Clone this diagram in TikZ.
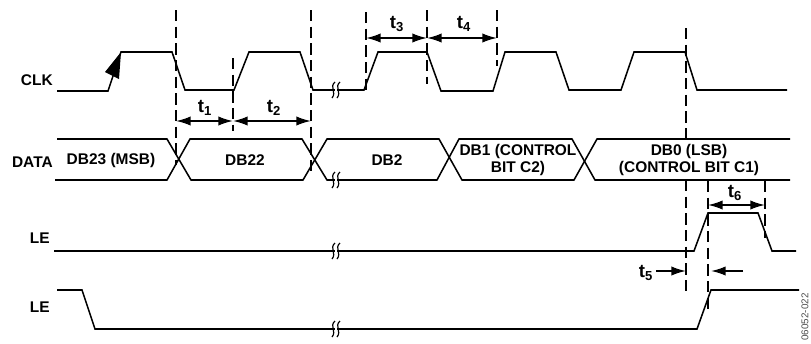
\documentclass[tikz,border=0pt]{standalone}
\usepackage{fontspec}
\setmainfont{Liberation Sans}
\usetikzlibrary{arrows.meta}
\tikzset{
    wave/.style={line width=1.15pt, line join=miter},
    guide/.style={line width=1pt, dash pattern=on 8.5pt off 4pt},
    span/.style={line width=1.3pt, {Latex[length=11pt,width=7pt]}-{Latex[length=11pt,width=7pt]}},
    oneway/.style={line width=1.3pt, -{Latex[length=11pt,width=7pt]}},
    lab/.style={font=\bfseries\fontsize{11.6pt}{12.8pt}\selectfont, inner sep=0pt, align=center},
    tlab/.style={font=\bfseries\fontsize{14pt}{15pt}\selectfont, inner sep=0pt}
}
\begin{document}
\begin{tikzpicture}[x=0.75pt, y=-0.75pt]
            \useasboundingbox (0, 0) rectangle (811, 343);
            % guide lines
            \path (176, 10) coordinate (G1a);
            \path (176, 165) coordinate (G1b);
            \path (233, 58) coordinate (G2a);
            \path (233, 131) coordinate (G2b);
            \path (311, 10) coordinate (G3a);
            \path (311, 172) coordinate (G3b);
            \path (366, 12) coordinate (G4a);
            \path (366, 90) coordinate (G4b);
            \path (427, 10) coordinate (G5a);
            \path (427, 84) coordinate (G5b);
            \path (497, 10) coordinate (G6a);
            \path (497, 66) coordinate (G6b);
            \path (686, 28) coordinate (G7a);
            \path (686, 139) coordinate (G7b);
            \path (686, 180) coordinate (G8a);
            \path (686, 296) coordinate (G8b);
            \path (708, 181) coordinate (G9a);
            \path (708, 314) coordinate (G9b);
            \path (765, 181) coordinate (G10a);
            \path (765, 238) coordinate (G10b);
            \foreach \g in {1, 2, 3, 4, 5, 6, 7, 8, 9, 10}
                \draw[guide] (G\g a) -- (G\g b);

            % CLK
            \draw[wave] (57, 91) -- (108, 91) -- (121, 52) -- (172, 52) -- (185, 90) -- (234, 90) -- (249, 52) -- (300, 52) -- (313, 90) -- (364, 90) -- (378, 52) -- (427, 52) -- (441, 91) -- (493, 91) -- (505, 52) -- (556, 52) -- (569, 90) -- (621, 90) -- (634, 52) -- (685, 52) -- (697, 90) -- (787, 90);
            \fill (121, 52) -- (105, 72) -- (119, 79) -- cycle;

            % DATA
            \draw[wave] (57, 139) -- (167, 139) -- (191, 180) -- (303, 180) -- (327, 139) -- (439, 139) -- (462, 180) -- (574, 180) -- (597, 139) -- (790, 139);
            \draw[wave] (55, 180) -- (167, 180) -- (190, 139) -- (302, 139) -- (327, 180) -- (437, 180) -- (459, 139) -- (572, 139) -- (595, 180) -- (790, 180);

            % LE
            \draw[wave] (54, 251) -- (694, 251) -- (708, 213) -- (758, 213) -- (772, 251) -- (796, 251);
            \draw[wave] (57, 290) -- (82, 290) -- (95, 329) -- (697, 329) -- (711, 290) -- (799, 290);

            % breaks
            \foreach \y in {90, 180, 251, 329} {
                \fill[white] (335, \y-2) rectangle (337, \y+2);
                \draw[line width=0.9pt] (335, \y-8) .. controls (329, \y-3) and (337, \y+2) .. (332, \y+8);
                \draw[line width=0.9pt] (340, \y-8) .. controls (334, \y-3) and (342, \y+2) .. (337, \y+8);
            }

            % time spans
            \draw[span] (G1a |- 0, 121) coordinate (S1) -- (G2a |- 0, 121) coordinate (S2);
            \draw[span] (S2) -- (G3a |- 0, 121);
            \draw[span] (G4a |- 0, 38) coordinate (S3) -- (G5a |- 0, 38) coordinate (S4);
            \draw[span] (S4) -- (G6a |- 0, 38);
            \draw[span] (G9a |- 0, 205) coordinate (S6) -- (G10a |- 0, 205);
            \path (656, 271) coordinate (T5a);
            \path (743, 271) coordinate (T5b);
            \draw[oneway] (T5a) -- (G8a |- T5a);
            \draw[oneway] (T5b) -- (711, 271);

            \node[tlab] (t1) at (205, 108) {t$_{\mathbf 1}$};
            \node[tlab] (t2) at (274, 108) {t$_{\mathbf 2}$};
            \node[tlab] (t3) at (397, 24) {t$_{\mathbf 3}$};
            \node[tlab] (t4) at (464, 24) {t$_{\mathbf 4}$};
            \node[tlab] (t5) at (646, 273) {t$_{\mathbf 5}$};
            \node[tlab] (t6) at (735, 193) {t$_{\mathbf 6}$};

            % labels
            \node[lab, anchor=east] (clk) at (53, 80) {CLK};
            \node[lab, anchor=east] (data) at (53, 162) {DATA};
            \node[lab, anchor=east] (le1) at (50, 238) {LE};
            \node[lab, anchor=east] (le2) at (50, 307) {LE};
            \node[lab] (db23) at (111, 160) {DB23 (MSB)};
            \node[lab] (db22) at (245, 160) {DB22};
            \node[lab] (db2) at (387, 160) {DB2};
            \node[lab] (db1) at (518, 160) {DB1 (CONTROL\\BIT C2)};
            \node[lab] (db0) at (689, 160) {DB0 (LSB)\\(CONTROL BIT C1)};
            \node[inner sep=0pt, rotate=90, text=black!70, font=\fontsize{7.4pt}{8pt}\selectfont] (code) at (805, 317) {06052-022};
        \end{tikzpicture}
\end{document}
